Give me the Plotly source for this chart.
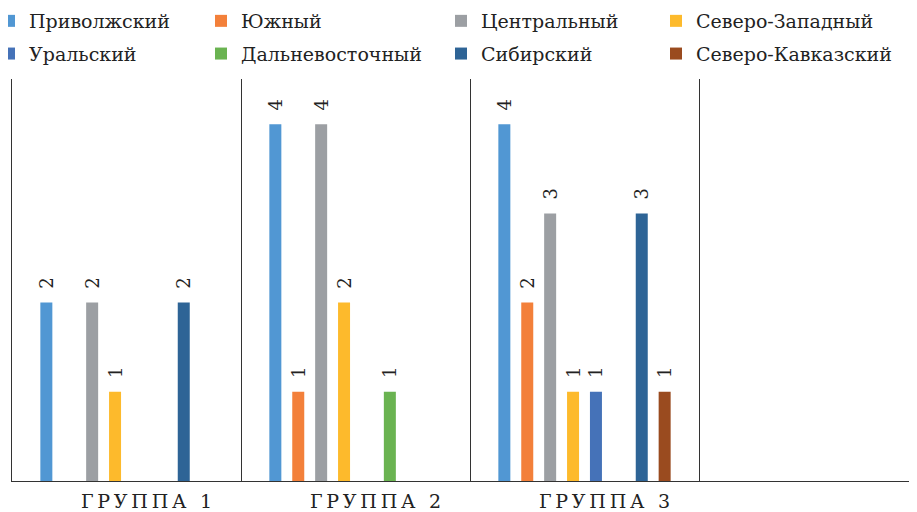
import plotly.graph_objects as go

groups = ["ГРУППА 1", "ГРУППА 2", "ГРУППА 3", " "]
regions = ["Приволжский", "Южный", "Центральный", "Северо-Западный",
           "Уральский", "Дальневосточный", "Сибирский", "Северо-Кавказский"]
values = {
    "Приволжский":       [2, 4, 4, None],
    "Южный":             [None, 1, 2, None],
    "Центральный":       [2, 4, 3, None],
    "Северо-Западный":   [1, 2, 1, None],
    "Уральский":         [None, None, 1, None],
    "Дальневосточный":   [None, 1, None, None],
    "Сибирский":         [2, None, 3, None],
    "Северо-Кавказский": [None, None, 1, None],
}
colors = {
    "Приволжский": "#5197D3",
    "Южный": "#F3803A",
    "Центральный": "#9C9FA3",
    "Северо-Западный": "#FDBA2C",
    "Уральский": "#4572B8",
    "Дальневосточный": "#6AB351",
    "Сибирский": "#2E6496",
    "Северо-Кавказский": "#9A4B1F",
}
legend_of = {
    "Приволжский": "legend", "Уральский": "legend",
    "Южный": "legend2", "Дальневосточный": "legend2",
    "Центральный": "legend3", "Сибирский": "legend3",
    "Северо-Западный": "legend4", "Северо-Кавказский": "legend4",
}

FONT = "DejaVu Serif"
# page body has an 8px margin; figure sized to fit the window inside it
W, H = 909, 504
ML, MT, MB, MR = 4, 71, 31, 0
PW = W - ML - MR
PH = H - MT - MB
XRANGE = [-0.5, -0.5 + PW / 229.0]


def spaced(label):
    # letter-spaced category label
    return "\u200a\u200a".join(list(label))


fig = go.Figure()
for r in regions:
    vals = values[r]
    fig.add_trace(go.Bar(
        name=r, x=groups, y=vals,
        marker=dict(color=colors[r], line=dict(width=0)),
        text=["\u2009\u2009\u2009" + str(v) if v is not None else "" for v in vals],
        textposition="outside", textangle=-90, constraintext="none",
        textfont=dict(family=FONT, size=18, color="#222"),
        cliponaxis=False,
        legend=legend_of[r], legendgroup=r,
    ))


def leg(xfig, yfig):
    return dict(xref="paper", yref="paper",
                x=(xfig - ML) / PW, y=1 + (MT - yfig) / PH,
                xanchor="left", yanchor="top", orientation="v",
                font=dict(family=FONT, size=19, color="#222"),
                bgcolor="rgba(0,0,0,0)", borderwidth=0, tracegroupgap=5,
                itemclick=False)


fig.update_layout(
    width=W, height=H,
    margin=dict(l=ML, r=MR, t=MT, b=MB, autoexpand=False),
    paper_bgcolor="white", plot_bgcolor="white",
    barmode="group", bargap=0.2, bargroupgap=0.476,
    showlegend=True,
    legend=leg(-19, -6),
    legend2=leg(193, -6),
    legend3=leg(433, -6),
    legend4=leg(648, -6),
    xaxis=dict(
        type="category", range=XRANGE,
        tickson="boundaries", showgrid=True, gridcolor="#333", gridwidth=1,
        showline=True, linecolor="#333", linewidth=1, ticks="",
        tickmode="array", tickvals=groups, ticktext=[spaced(g) for g in groups],
        tickangle=0, ticklabelstandoff=3, ticklabelshift=20,
        tickfont=dict(family=FONT, size=19, color="#222"),
    ),
    yaxis=dict(
        range=[0, PH / 89.2], showgrid=False, showticklabels=False,
        zeroline=False, showline=True, linecolor="#333", linewidth=1, ticks="",
    ),
)

fig.write_html("out.html")
